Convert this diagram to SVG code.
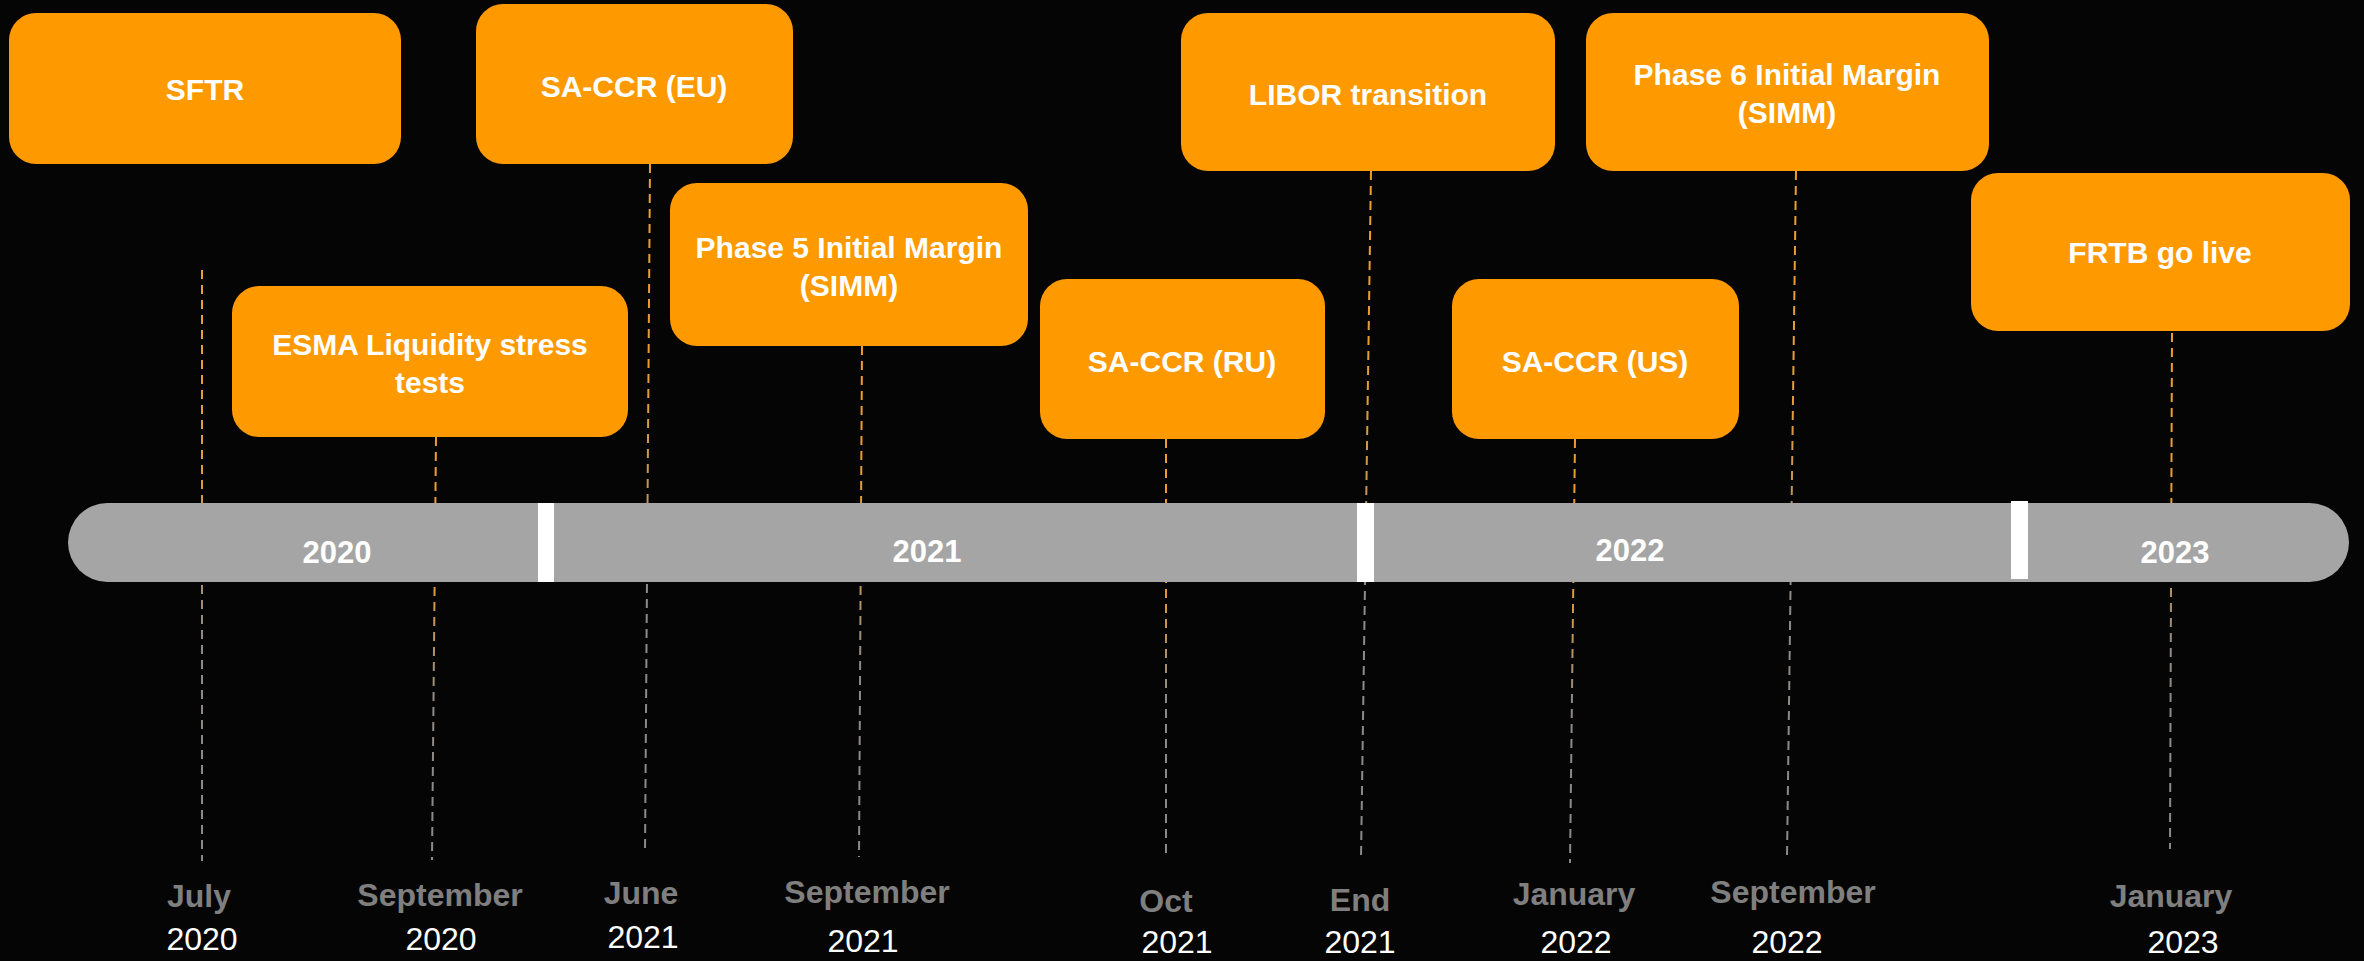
<svg xmlns="http://www.w3.org/2000/svg" width="2364" height="961" viewBox="0 0 2364 961">
  <style>
    .box { fill: #FF9900; }
    .label { font-family: "Liberation Sans", Arial, sans-serif; font-weight: bold; font-size: 30px; fill: #FFFFFF; text-anchor: middle; }
    .bar { fill: #A5A5A5; }
    .sep { fill: #FFFFFF; }
    .barYear { font-family: "Liberation Sans", Arial, sans-serif; font-weight: bold; font-size: 31px; fill: #FFFFFF; text-anchor: middle; }
    .month { font-family: "Liberation Sans", Arial, sans-serif; font-weight: bold; font-size: 32px; fill: #7F7F7F; text-anchor: middle; }
    .year { font-family: "Liberation Sans", Arial, sans-serif; font-weight: normal; font-size: 32px; fill: #FFFFFF; text-anchor: middle; }
    .conn { fill: none; stroke-width: 2; stroke-dasharray: 9 6; }
  </style>
  <defs>
    <!-- dashed drop lines fade from orange to grey downwards -->
    <linearGradient id="fade">
      <stop offset="0" stop-color="#EE9E2C"/>
      <stop offset="0.35" stop-color="#E39C36"/>
      <stop offset="0.62" stop-color="#8E8A86"/>
      <stop offset="1" stop-color="#8A8A8A"/>
    </linearGradient>
    <linearGradient id="g1" href="#fade" gradientUnits="userSpaceOnUse" x1="0" y1="270" x2="0" y2="861"/>
    <linearGradient id="g2" href="#fade" gradientUnits="userSpaceOnUse" x1="0" y1="437" x2="0" y2="860"/>
    <linearGradient id="g3" href="#fade" gradientUnits="userSpaceOnUse" x1="0" y1="164" x2="0" y2="853"/>
    <linearGradient id="g4" href="#fade" gradientUnits="userSpaceOnUse" x1="0" y1="346" x2="0" y2="857"/>
    <linearGradient id="g5" href="#fade" gradientUnits="userSpaceOnUse" x1="0" y1="439" x2="0" y2="853"/>
    <linearGradient id="g6" href="#fade" gradientUnits="userSpaceOnUse" x1="0" y1="171" x2="0" y2="859"/>
    <linearGradient id="g7" href="#fade" gradientUnits="userSpaceOnUse" x1="0" y1="439" x2="0" y2="863"/>
    <linearGradient id="g8" href="#fade" gradientUnits="userSpaceOnUse" x1="0" y1="171" x2="0" y2="857"/>
    <linearGradient id="g9" href="#fade" gradientUnits="userSpaceOnUse" x1="0" y1="333" x2="0" y2="849"/>
  </defs>

  <rect x="0" y="0" width="2364" height="961" fill="#050505"/>

  <!-- dashed drop lines from each milestone to its date -->
  <g id="connectors">
    <line class="conn" stroke="url(#g1)" x1="202" y1="270" x2="202" y2="861"/>
    <line class="conn" stroke="url(#g2)" x1="436" y1="437" x2="432" y2="860"/>
    <line class="conn" stroke="url(#g3)" x1="650" y1="164" x2="645" y2="853"/>
    <line class="conn" stroke="url(#g4)" x1="862" y1="346" x2="859" y2="857"/>
    <line class="conn" stroke="url(#g5)" x1="1166" y1="439" x2="1166" y2="853"/>
    <line class="conn" stroke="url(#g6)" x1="1371" y1="171" x2="1361" y2="859"/>
    <line class="conn" stroke="url(#g7)" x1="1575" y1="439" x2="1570" y2="863"/>
    <line class="conn" stroke="url(#g8)" x1="1796" y1="171" x2="1787" y2="857"/>
    <line class="conn" stroke="url(#g9)" x1="2172" y1="333" x2="2170" y2="849"/>
  </g>

  <!-- year bar -->
  <g id="timeline">
    <rect class="bar" x="68" y="503" width="2281" height="79" rx="39.5" ry="39.5"/>
    <rect class="sep" x="538" y="503" width="16" height="79"/>
    <rect class="sep" x="1357" y="503" width="17" height="79"/>
    <rect class="sep" x="2011" y="501" width="17" height="78"/>
    <text class="barYear" x="337" y="563">2020</text>
    <text class="barYear" x="927" y="562">2021</text>
    <text class="barYear" x="1630" y="561">2022</text>
    <text class="barYear" x="2175" y="563">2023</text>
  </g>

  <!-- milestones -->
  <g id="sftr">
    <rect class="box" x="9" y="13" width="392" height="151" rx="27"/>
    <text class="label" x="205" y="100">SFTR</text>
  </g>
  <g id="saccr-eu">
    <rect class="box" x="476" y="4" width="317" height="160" rx="27"/>
    <text class="label" x="634" y="97">SA-CCR (EU)</text>
  </g>
  <g id="esma">
    <rect class="box" x="232" y="286" width="396" height="151" rx="27"/>
    <text class="label" x="430" y="355">ESMA Liquidity stress</text>
    <text class="label" x="430" y="393">tests</text>
  </g>
  <g id="phase5">
    <rect class="box" x="670" y="183" width="358" height="163" rx="27"/>
    <text class="label" x="849" y="258">Phase 5 Initial Margin</text>
    <text class="label" x="849" y="296">(SIMM)</text>
  </g>
  <g id="saccr-ru">
    <rect class="box" x="1040" y="279" width="285" height="160" rx="27"/>
    <text class="label" x="1182" y="372">SA-CCR (RU)</text>
  </g>
  <g id="libor">
    <rect class="box" x="1181" y="13" width="374" height="158" rx="27"/>
    <text class="label" x="1368" y="105">LIBOR transition</text>
  </g>
  <g id="saccr-us">
    <rect class="box" x="1452" y="279" width="287" height="160" rx="27"/>
    <text class="label" x="1595" y="372">SA-CCR (US)</text>
  </g>
  <g id="phase6">
    <rect class="box" x="1586" y="13" width="403" height="158" rx="27"/>
    <text class="label" x="1787" y="85">Phase 6 Initial Margin</text>
    <text class="label" x="1787" y="123">(SIMM)</text>
  </g>
  <g id="frtb">
    <rect class="box" x="1971" y="173" width="379" height="158" rx="27"/>
    <text class="label" x="2160" y="263">FRTB go live</text>
  </g>

  <!-- dates under the drop lines -->
  <g id="dates">
    <text class="month" x="199" y="907">July</text>
    <text class="year" x="202" y="950">2020</text>
    <text class="month" x="440" y="906">September</text>
    <text class="year" x="441" y="950">2020</text>
    <text class="month" x="641" y="904">June</text>
    <text class="year" x="643" y="948">2021</text>
    <text class="month" x="867" y="903">September</text>
    <text class="year" x="863" y="952">2021</text>
    <text class="month" x="1166" y="912">Oct</text>
    <text class="year" x="1177" y="953">2021</text>
    <text class="month" x="1360" y="911">End</text>
    <text class="year" x="1360" y="953">2021</text>
    <text class="month" x="1574" y="905">January</text>
    <text class="year" x="1576" y="953">2022</text>
    <text class="month" x="1793" y="903">September</text>
    <text class="year" x="1787" y="953">2022</text>
    <text class="month" x="2171" y="907">January</text>
    <text class="year" x="2183" y="953">2023</text>
  </g>
</svg>
